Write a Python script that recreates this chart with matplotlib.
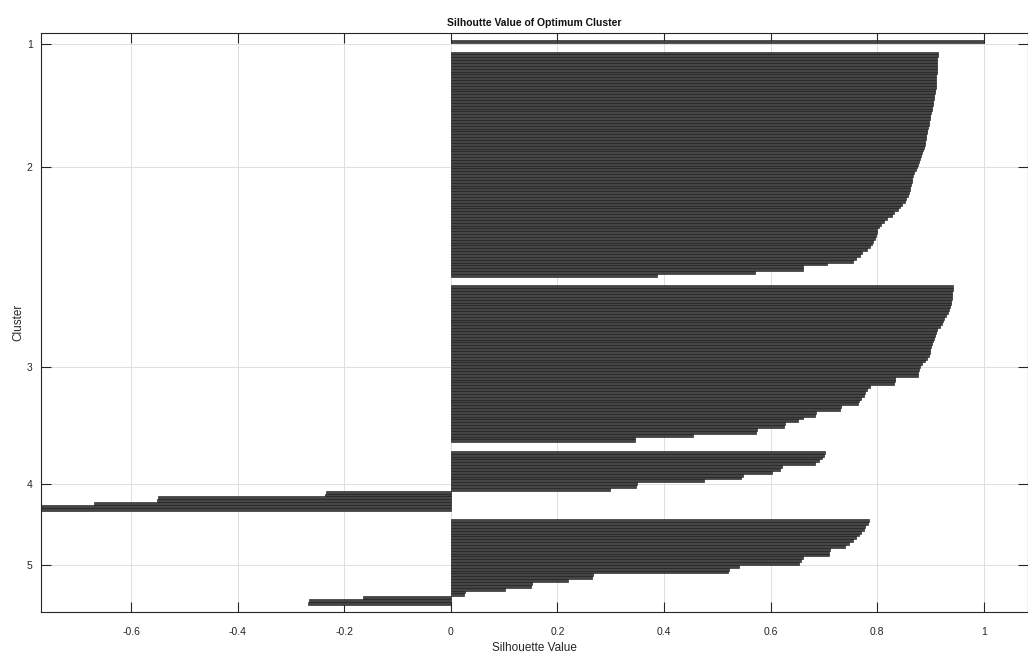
import numpy as np
import matplotlib
matplotlib.use("Agg")
import matplotlib.pyplot as plt

plt.rcParams['font.family'] = ['Liberation Sans', 'DejaVu Sans']

# ---- data (silhouette values per cluster) ----
cluster_names = ["1", "2", "3", "4", "5"]

sil_c1 = [1.0]

sil_c2 = [0.914, 0.914, 0.913, 0.913, 0.913, 0.912, 0.912, 0.912, 0.911, 0.911,
          0.911, 0.910, 0.910, 0.909, 0.908, 0.907, 0.906, 0.905, 0.904, 0.903,
          0.902, 0.901, 0.900, 0.899, 0.898, 0.897, 0.895, 0.894, 0.893, 0.892,
          0.891, 0.890, 0.889, 0.888, 0.886, 0.885, 0.883, 0.881, 0.879, 0.877,
          0.875, 0.873, 0.870, 0.867, 0.866, 0.865, 0.864, 0.862, 0.861, 0.859,
          0.857, 0.855, 0.852, 0.847, 0.842, 0.840, 0.832, 0.827, 0.818, 0.812,
          0.808, 0.803, 0.800, 0.799, 0.797, 0.795, 0.792, 0.790, 0.786, 0.780,
          0.772, 0.767, 0.760, 0.755, 0.705, 0.660, 0.660, 0.570, 0.386]

sil_c3 = [0.942, 0.942, 0.941, 0.941, 0.940, 0.939, 0.938, 0.936, 0.934, 0.932,
          0.929, 0.926, 0.923, 0.921, 0.917, 0.913, 0.911, 0.908, 0.906, 0.905,
          0.903, 0.901, 0.900, 0.899, 0.897, 0.893, 0.889, 0.885, 0.880, 0.878,
          0.877, 0.876, 0.833, 0.833, 0.831, 0.786, 0.780, 0.777, 0.776, 0.770,
          0.766, 0.764, 0.733, 0.730, 0.686, 0.684, 0.661, 0.652, 0.627, 0.625,
          0.574, 0.572, 0.454, 0.345, 0.345]

sil_c4 = [0.702, 0.700, 0.697, 0.690, 0.683, 0.621, 0.618, 0.602, 0.549, 0.545,
          0.475, 0.350, 0.348, 0.298, -0.234, -0.236, -0.549, -0.552, -0.670,
          -0.769, -0.769]

sil_c5 = [0.784, 0.782, 0.778, 0.775, 0.770, 0.765, 0.760, 0.754, 0.748, 0.740,
          0.712, 0.710, 0.709, 0.660, 0.657, 0.654, 0.541, 0.522, 0.520, 0.266,
          0.264, 0.219, 0.152, 0.150, 0.101, 0.026, 0.024, -0.165, -0.266, -0.268]

x_ticks = [-0.6, -0.4, -0.2, 0, 0.2, 0.4, 0.6, 0.8, 1]
x_tick_labels = ["-0.6", "-0.4", "-0.2", "0", "0.2", "0.4", "0.6", "0.8", "1"]

title_text = "Silhoutte Value of Optimum Cluster"
x_label = "Silhouette Value"
y_label = "Cluster"

# ---- build the MATLAB-style silhouette bar layout ----
clusters = [sil_c1, sil_c2, sil_c3, sil_c4, sil_c5]
n = sum(len(c) for c in clusters)
space = max(int(np.floor(0.02 * n)), 2)
values = [np.nan] * space
tcks = []
for c in clusters:
    values += sorted(c, reverse=True) + [np.nan] * space
    tcks.append(len(values) - 0.5 * (len(c) + space))
values = np.array(values)
pos = np.arange(1, len(values) + 1)
mask = ~np.isnan(values)

fig = plt.figure(figsize=(10.28, 6.6), dpi=100)
ax = fig.add_axes([41 / 1028, 48 / 660, (1028 - 41) / 1028, 579 / 660])

ax.barh(pos[mask], values[mask], height=1.0, color='#454545',
        edgecolor='#151515', linewidth=0.4, zorder=3)

ax.set_ylim(len(values), 1)
ax.set_xlim(np.nanmin(values), 1.083)

ax.set_yticks(tcks)
ax.set_yticklabels(cluster_names)
ax.set_xticks(x_ticks)
ax.set_xticklabels(x_tick_labels)

axis_col = '#262626'
for s in ax.spines.values():
    s.set_color(axis_col)
    s.set_linewidth(0.8)
ax.tick_params(direction='in', length=7, width=0.8, colors=axis_col,
               labelsize=7.5, top=True, right=True)
ax.tick_params(axis='x', pad=10.5)
ax.tick_params(axis='y', pad=6)
ax.grid(True, color='#dedede', linewidth=0.7)
ax.set_axisbelow(True)

ax.set_title(title_text, fontsize=7.5, fontweight='bold', color='#111111', pad=5)
ax.set_xlabel(x_label, fontsize=8.5, color=axis_col, labelpad=4)
ax.set_ylabel(y_label, fontsize=8.5, color=axis_col, labelpad=2)

fig.savefig("out.png", dpi=100)
